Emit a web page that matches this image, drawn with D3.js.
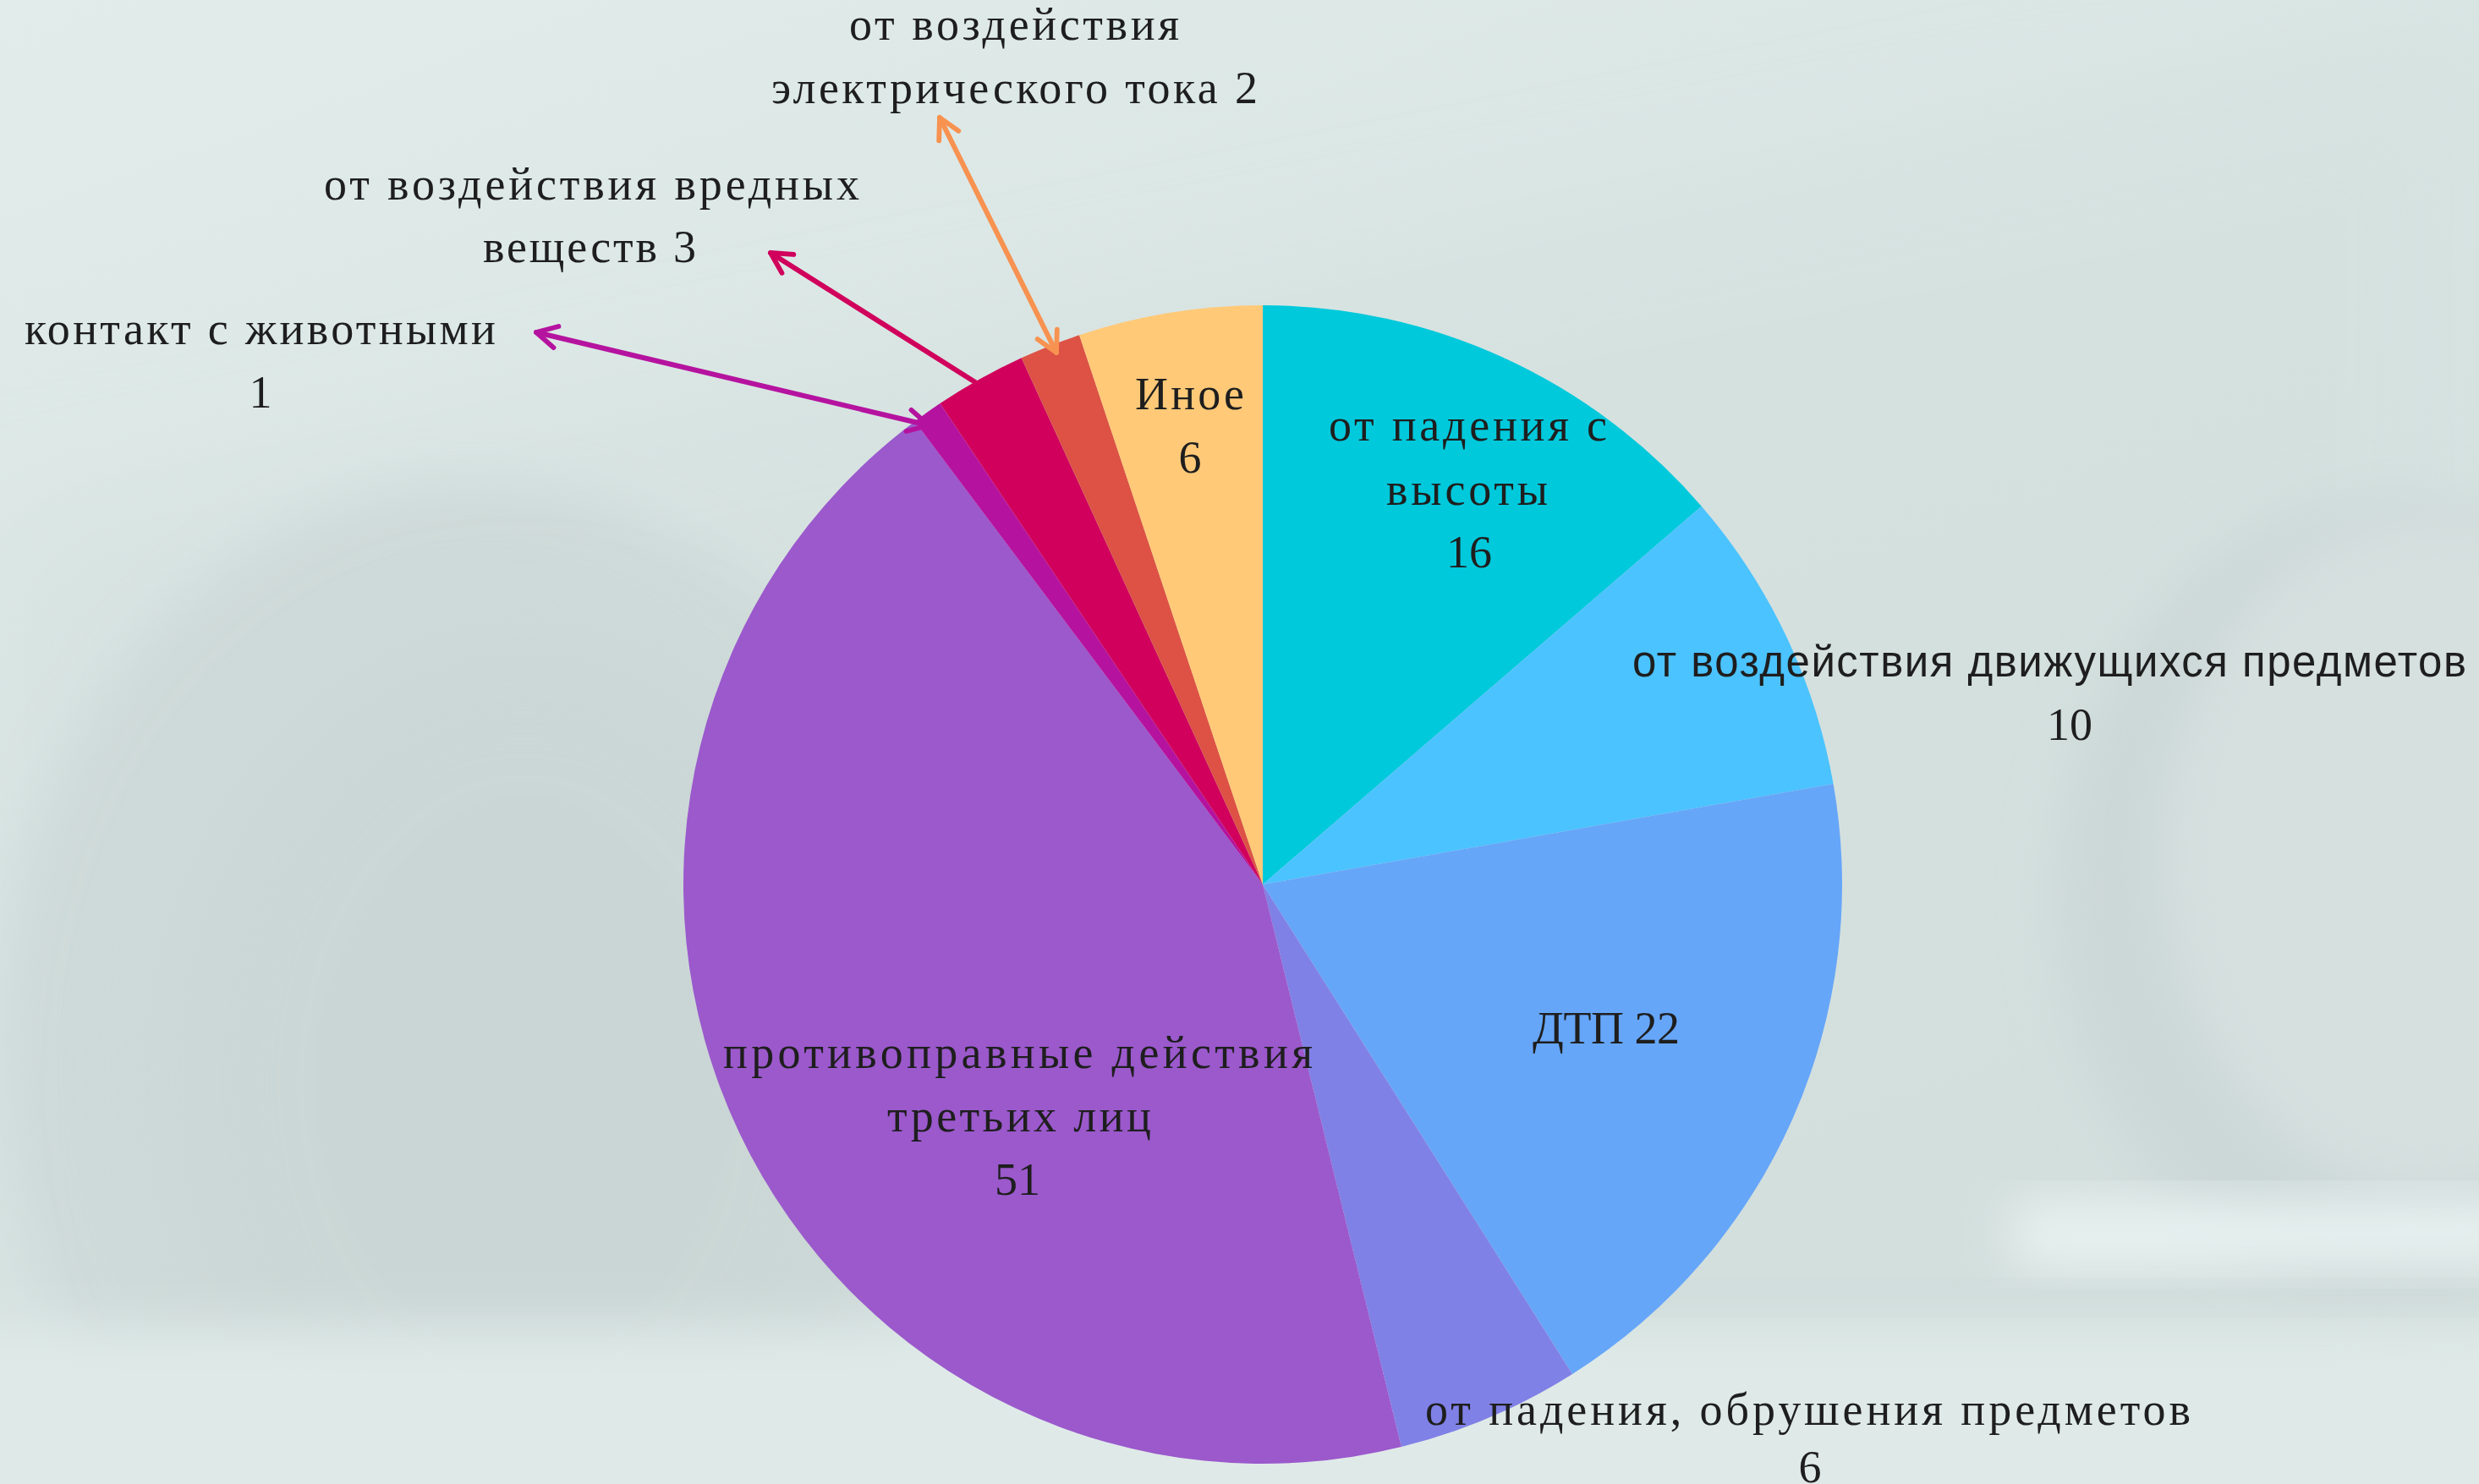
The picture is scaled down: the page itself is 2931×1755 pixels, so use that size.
<!DOCTYPE html>
<html>
<head>
<meta charset="utf-8">
<script src="https://cdn.jsdelivr.net/npm/d3@7"></script>
<style>
  html, body { margin: 0; padding: 0; }
  body { width: 2931px; height: 1755px; overflow: hidden; background: #dce7e5; }
  svg { display: block; }
</style>
</head>
<body>
<svg id="chart" width="2931" height="1755"></svg>
<script>
// categories in drawing order, clockwise from 12 o'clock
const categories = [
  'от падения с высоты',
  'от воздействия движущихся предметов',
  'ДТП',
  'от падения, обрушения предметов',
  'противоправные действия третьих лиц',
  'контакт с животными',
  'от воздействия вредных веществ',
  'от воздействия электрического тока',
  'Иное'
];
const values = [16, 10, 22, 6, 51, 1, 3, 2, 6];
const colors = ['#00c9dc', '#4bc3fe', '#66a6f9', '#8081e6', '#9b59cc', '#b5139f', '#d0005c', '#dd5245', '#ffc978'];

// label lines as shown on the chart
const labelLines = [
  ['от падения с', 'высоты', '16'],
  ['от воздействия движущихся предметов', '10'],
  ['ДТП 22'],
  ['от падения, обрушения предметов', '6'],
  ['противоправные действия', 'третьих лиц', '51'],
  ['контакт с животными', '1'],
  ['от воздействия вредных', 'веществ 3'],
  ['от воздействия', 'электрического тока 2'],
  ['Иное', '6']
];

const svg = d3.select('#chart');
const W = 2931, H = 1755;

// ---- background (soft photo-like backdrop) ----
const defs = svg.append('defs');
const bg = defs.append('linearGradient').attr('id', 'bg')
  .attr('x1', 0).attr('y1', 0).attr('x2', 0.6).attr('y2', 1);
bg.append('stop').attr('offset', 0).attr('stop-color', '#e2edeb');
bg.append('stop').attr('offset', 0.45).attr('stop-color', '#d9e5e3');
bg.append('stop').attr('offset', 1).attr('stop-color', '#d4e0de');
defs.append('filter').attr('id', 'soft').attr('x', '-30%').attr('y', '-30%').attr('width', '160%').attr('height', '160%')
  .append('feGaussianBlur').attr('stdDeviation', 30);
defs.append('filter').attr('id', 'softer').attr('x', '-30%').attr('y', '-30%').attr('width', '160%').attr('height', '160%')
  .append('feGaussianBlur').attr('stdDeviation', 70);

const back = svg.append('g').attr('class', 'backdrop');
back.append('rect').attr('width', W).attr('height', H).attr('fill', 'url(#bg)');
// diagonal shade across the upper part
back.append('path')
  .attr('d', 'M0,620 L2931,40 L2931,1755 L0,1755 Z')
  .attr('fill', '#d3dfdd').attr('opacity', 0.5).attr('filter', 'url(#softer)');
// big rounded shape on the left
back.append('ellipse')
  .attr('cx', 560).attr('cy', 1230).attr('rx', 560).attr('ry', 660)
  .attr('fill', '#cdd9d8').attr('opacity', 0.85).attr('filter', 'url(#soft)');
back.append('ellipse')
  .attr('cx', 620).attr('cy', 1280).attr('rx', 420).attr('ry', 520)
  .attr('fill', '#c9d5d4').attr('opacity', 0.6).attr('filter', 'url(#softer)');
// rounded shape on the right
back.append('ellipse')
  .attr('cx', 2830).attr('cy', 1060).attr('rx', 400).attr('ry', 470)
  .attr('fill', '#ccd8d7').attr('filter', 'url(#soft)');
back.append('ellipse')
  .attr('cx', 2880).attr('cy', 1010).attr('rx', 320).attr('ry', 400)
  .attr('fill', '#d5e0df').attr('filter', 'url(#soft)');
// light strips at the bottom
back.append('rect').attr('x', 2380).attr('y', 1420).attr('width', 620).attr('height', 80)
  .attr('fill', '#e8f2f1').attr('filter', 'url(#soft)');
back.append('rect').attr('x', -100).attr('y', 1570).attr('width', 3100).attr('height', 260)
  .attr('fill', '#dfeae8').attr('filter', 'url(#soft)');
back.append('rect').attr('x', 1800).attr('y', 1520).attr('width', 1200).attr('height', 30)
  .attr('fill', '#cbd7d6').attr('opacity', 0.6).attr('filter', 'url(#soft)');

// ---- pie ----
const cx = 1493, cy = 1046, radius = 685;
const pie = d3.pie().sort(null).value(d => d);
const arc = d3.arc().innerRadius(0).outerRadius(radius);

const g = svg.append('g').attr('transform', `translate(${cx},${cy})`);
g.selectAll('path.slice')
  .data(pie(values))
  .join('path')
    .attr('class', 'slice')
    .attr('d', arc)
    .attr('fill', (d, i) => colors[i]);

// ---- leader arrows for the thin slices ----
const arrowColor = { 5: '#b5139f', 6: '#d0005c', 7: '#f79250' };
Object.entries(arrowColor).forEach(([i, c]) => {
  defs.append('marker')
    .attr('id', 'head' + i)
    .attr('viewBox', '0 0 10 10')
    .attr('refX', 8.6).attr('refY', 5)
    .attr('markerUnits', 'userSpaceOnUse')
    .attr('markerWidth', 34).attr('markerHeight', 34)
    .attr('orient', 'auto-start-reverse')
    .append('path')
      .attr('d', 'M1.5,1.2 L8.6,5 L1.5,8.8')
      .attr('fill', 'none')
      .attr('stroke', c)
      .attr('stroke-width', 1.7)
      .attr('stroke-linecap', 'round')
      .attr('stroke-linejoin', 'round');
});

// arrow ends: [pie end, label end], both heads except for the "вредных" one
const arrows = [
  { i: 5, from: [1098, 503], to: [634, 393], both: true },
  { i: 6, from: [1153, 452], to: [911, 299], both: false },
  { i: 7, from: [1249, 417], to: [1111, 139], both: true }
];
const line = d3.line();
svg.append('g').attr('class', 'arrows')
  .selectAll('path')
  .data(arrows)
  .join('path')
    .attr('d', d => line([d.from, d.to]))
    .attr('fill', 'none')
    .attr('stroke', d => arrowColor[d.i])
    .attr('stroke-width', 6)
    .attr('stroke-linecap', 'round')
    .attr('marker-end', d => `url(#head${d.i})`)
    .attr('marker-start', d => d.both ? `url(#head${d.i})` : null);

// ---- labels ----
// x: left edge (or centre for single figures), y: baseline, w: line width
const labelLayout = [
  [{ x: 1571, y: 521, w: 329 }, { x: 1639, y: 597, w: 191 }, { x: 1737, y: 671 }],
  [{ x: 1930, y: 800, w: 986, sans: true }, { x: 2447, y: 875 }],
  [{ x: 1812, y: 1234, w: 174 }],
  [{ x: 1685, y: 1685, w: 905 }, { x: 2140, y: 1753 }],
  [{ x: 855, y: 1263, w: 697 }, { x: 1049, y: 1338, w: 312 }, { x: 1203, y: 1413 }],
  [{ x: 29, y: 407, w: 557 }, { x: 308, y: 482 }],
  [{ x: 383, y: 236, w: 633 }, { x: 571, y: 310, w: 252 }],
  [{ x: 1004, y: 47, w: 390 }, { x: 912, y: 122, w: 575 }],
  [{ x: 1342, y: 484, w: 129 }, { x: 1407, y: 559 }]
];

const labels = svg.append('g').attr('class', 'labels');
labelLines.forEach((lines, i) => {
  lines.forEach((txt, j) => {
    const p = labelLayout[i][j];
    const t = labels.append('text')
      .attr('x', p.x)
      .attr('y', p.y)
      .attr('fill', '#1e1e1e')
      .style('font-family', p.sans ? '"Liberation Sans", Arial, sans-serif' : '"Liberation Serif", "Times New Roman", serif')
      .style('font-size', p.sans ? '51px' : '54px')
      .text(txt);
    if (p.w) {
      t.attr('text-anchor', 'start')
        .attr('textLength', p.w)
        .attr('lengthAdjust', 'spacing');
    } else {
      t.attr('text-anchor', 'middle');
    }
  });
});
</script>
</body>
</html>
